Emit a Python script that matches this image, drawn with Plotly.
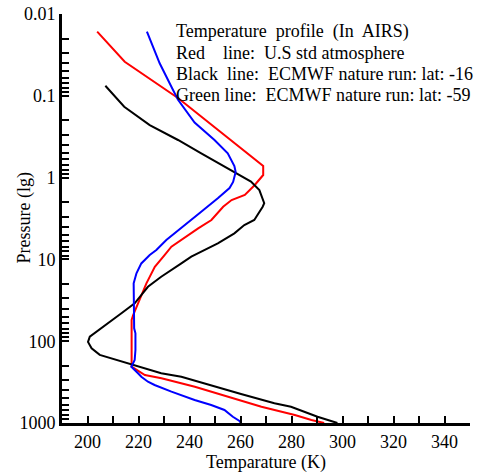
import plotly.graph_objects as go

# Red line: U.S. standard atmosphere (temperature K, pressure hPa)
red_T = [203.8, 214.6, 235.6, 256.1, 266.3, 268.9, 268.9, 265.6, 261.7, 256.5, 253.2, 248.6,
         243.4, 237.5, 232.9, 230.3, 227.7, 226.4, 223.1, 220.5, 219.2, 217.9, 217.3, 217.3,
         222.5, 229.0, 242.1, 255.2, 268.2, 281.3, 287.8, 292.8]
red_P = [0.0164, 0.0383, 0.107, 0.347, 0.61, 0.72, 0.93, 1.23, 1.63, 1.88, 2.27, 3.30,
         4.17, 5.52, 7.0, 8.8, 11.2, 12.3, 19.6, 29.9, 37.9, 47.9, 55, 205,
         259, 284, 360, 477, 632, 798, 919, 1000]

# Black line: ECMWF nature run lat -16
black_T = [207.0, 214.4, 224.4, 235.5, 244.6, 252.4, 257.6, 264.1, 267.4, 269.3, 268.7, 265.4,
           261.5, 257.6, 251.1, 245.9, 240.7, 236.8, 228.9, 223.7, 218.5, 213.3, 208.1, 204.2,
           200.9, 200.2, 201.6, 204.8, 209.4, 217.2, 228.9, 236.8, 248.5, 260.2, 273.3, 279.8,
           290.2, 298.0]
black_P = [0.0754, 0.136, 0.228, 0.347, 0.505, 0.701, 0.866, 1.12, 1.42, 2.06, 2.27, 3.30,
           3.80, 4.80, 6.36, 7.67, 9.27, 11.2, 16.3, 21.6, 34.4, 45.6, 60.4, 73,
           88, 102, 122, 147, 162, 195, 247, 272, 343, 442, 574, 632,
           838, 1000]

# Blue ("Green") line: ECMWF nature run lat -59
blue_T = [223.3, 228.3, 232.9, 235.5, 242.0, 249.8, 255.0, 257.6, 258.1, 257.1, 255.7, 251.1,
          244.6, 238.1, 230.9, 227.0, 224.4, 221.1, 219.2, 218.1, 218.1, 218.3, 218.8, 218.8,
          218.5, 217.2, 219.8, 221.1, 223.7, 226.3, 232.9, 242.0, 248.5, 253.7, 257.0, 259.6,
          260.2]
blue_P = [0.0164, 0.040, 0.0775, 0.112, 0.212, 0.347, 0.505, 0.721, 0.855, 1.13, 1.34, 1.79,
          2.61, 3.80, 5.79, 7.67, 8.84, 11.2, 14.8, 19.6, 37.9, 69.5, 80, 128,
          170, 205, 247, 272, 313, 343, 414, 523, 603, 693, 838, 946,
          1000]

annotation_lines = [
    "Temperature\u00a0 profile\u00a0 (In\u00a0 AIRS)",
    "Red\u00a0\u00a0\u00a0 line:\u00a0 U.S std atmosphere",
    "Black\u00a0 line:\u00a0 ECMWF nature run: lat: -16",
    "Green line:\u00a0 ECMWF nature run: lat: -59",
]
x_title = "Temparature (K)"
y_title = "Pressure (lg)"

FONT = "Liberation Serif, Times New Roman, serif"

fig = go.Figure()
fig.add_trace(go.Scatter(x=red_T, y=red_P, mode="lines", line=dict(color="#ff0000", width=2)))
fig.add_trace(go.Scatter(x=black_T, y=black_P, mode="lines", line=dict(color="#000000", width=2)))
fig.add_trace(go.Scatter(x=blue_T, y=blue_P, mode="lines", line=dict(color="#0000ff", width=2)))

ann_y = [0.956, 0.905, 0.853, 0.802]
for txt, yy in zip(annotation_lines, ann_y):
    fig.add_annotation(text=txt, xref="paper", yref="paper", x=0.2745, y=yy,
                       xanchor="left", yanchor="middle", showarrow=False,
                       font=dict(family=FONT, size=18, color="black"))

# y-axis title as rotated annotation
fig.add_annotation(text=y_title, xref="paper", yref="paper", x=-0.093, y=0.5,
                   xanchor="center", yanchor="middle", textangle=-90, showarrow=False,
                   font=dict(family=FONT, size=18, color="black"))

fig.update_layout(
    width=479, height=474,
    margin=dict(l=62, r=9, t=14, b=51, autoexpand=False),
    plot_bgcolor="white", paper_bgcolor="white",
    showlegend=False,
    font=dict(family=FONT, size=18, color="black"),
)
fig.update_xaxes(
    range=[190, 350], dtick=20, tick0=200, automargin=False,
    showline=True, linecolor="black", linewidth=3,
    ticks="inside", ticklen=7, tickwidth=2, tickcolor="black",
    minor=dict(dtick=10, tick0=190, ticks="inside", ticklen=7, tickwidth=2, tickcolor="black"),
    showgrid=False, zeroline=False,
    title=dict(text=x_title, font=dict(family=FONT, size=18), standoff=2),
    tickfont=dict(family=FONT, size=18),
)
fig.update_yaxes(
    type="log", range=[3, -2], dtick=1, exponentformat="none", automargin=False,
    showline=True, linecolor="black", linewidth=3,
    ticks="inside", ticklen=7, tickwidth=2, tickcolor="black",
    minor=dict(dtick="D1", ticks="inside", ticklen=7, tickwidth=2, tickcolor="black"),
    showgrid=False, zeroline=False,
    tickfont=dict(family=FONT, size=18),
)

fig.write_html("out.html", config={"displayModeBar": False},
               post_script="document.body.style.margin='0px';document.body.style.padding='0px';")
